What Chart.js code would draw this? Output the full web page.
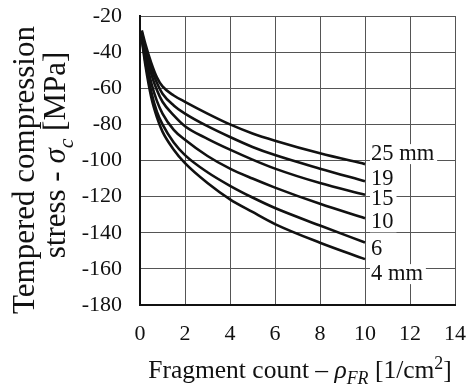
<!DOCTYPE html>
<html>
<head>
<meta charset="utf-8">
<script src="https://cdn.jsdelivr.net/npm/chart.js@4"></script>
<style>
  body { margin: 0; background: #fff; }
</style>
</head>
<body>
<canvas id="stressChart" width="473" height="388"></canvas>
<script>
// fragment count values [1/cm2]
const fragmentCount = [0.08, 0.25, 0.5, 0.75, 1, 1.5, 2, 3, 4, 5, 6, 8, 10];

// stress per glass thickness [MPa]
const stress25 = [-28, -36, -46, -54, -59, -64, -67.5, -74, -80, -85, -89, -96, -102];
const stress19 = [-29, -38, -49, -57, -63, -69.5, -74, -81, -87, -92.5, -97, -104.5, -111.5];
const stress15 = [-30, -40, -52, -61, -67.5, -75, -81, -88, -94, -99.5, -104.5, -112.5, -119];
const stress10 = [-31, -43, -57, -67, -74, -83, -88.5, -97.5, -104.5, -110, -115, -124, -132];
const stress6 = [-32, -46, -62, -73, -80, -90, -97, -106.5, -114, -120.5, -126.3, -136, -145.4];
const stress4 = [-33, -48, -65, -76, -84, -94, -101.5, -112.5, -121.5, -128.5, -135.2, -145.5, -154.6];

const curveLabels = ["25 mm", "19", "15", "10", "6", "4 mm"];
const allSeries = [stress25, stress19, stress15, stress10, stress6, stress4];

const serif = "'Liberation Serif', 'DejaVu Serif', serif";

// label offsets from the curve end point (px)
const labelShift = [-10, -2, 4, 4, 7, 15];

const curveLabelPlugin = {
   id: "curveLabels",
   afterDatasetsDraw(chart) {
      const ctx = chart.ctx;
      ctx.save();
      ctx.font = "22.5px " + serif;
      ctx.textBaseline = "middle";
      ctx.textAlign = "left";
      chart.data.datasets.forEach((ds, i) => {
         const pts = chart.getDatasetMeta(i).data;
         const last = pts[pts.length - 1];
         const x = last.x + 6;
         const y = last.y + labelShift[i];
         const w = ctx.measureText(curveLabels[i]).width;
         ctx.fillStyle = "#fff";
         ctx.fillRect(x - 1, y - 10, w + 4, 20);
         ctx.fillStyle = "#111";
         ctx.fillText(curveLabels[i], x, y);
      });
      ctx.restore();
   }
};

// draws a run of text pieces (normal / italic / sub / sup) centred on 0
function drawPieces(ctx, pieces, size) {
   const fontOf = p => {
      const s = p.sub || p.sup ? size * 0.7 : size;
      return (p.italic ? "italic " : "") + s + "px " + serif;
   };
   let total = 0;
   pieces.forEach(p => {
      ctx.font = fontOf(p);
      total += ctx.measureText(p.t).width;
   });
   let x = -total / 2;
   pieces.forEach(p => {
      ctx.font = fontOf(p);
      let dy = 0;
      if (p.sub) dy = size * 0.25;
      if (p.sup) dy = -size * 0.35;
      ctx.fillText(p.t, x, dy);
      x += ctx.measureText(p.t).width;
   });
}

const axisTitlePlugin = {
   id: "axisTitles",
   afterDraw(chart) {
      const ctx = chart.ctx;
      ctx.save();
      ctx.fillStyle = "#111";
      ctx.textBaseline = "alphabetic";
      ctx.textAlign = "left";

      // x title
      ctx.save();
      ctx.translate(300, 378);
      drawPieces(ctx, [
         { t: "Fragment count \u2013 " },
         { t: "\u03c1", italic: true },
         { t: "FR", italic: true, sub: true },
         { t: " [1/cm" },
         { t: "2", sup: true },
         { t: "]" }
      ], 25.5);
      ctx.restore();

      // y title, two lines
      ctx.save();
      ctx.translate(34, 170);
      ctx.rotate(-Math.PI / 2);
      drawPieces(ctx, [{ t: "Tempered compression" }], 31);
      ctx.restore();

      ctx.save();
      ctx.translate(65, 155);
      ctx.rotate(-Math.PI / 2);
      drawPieces(ctx, [
         { t: "stress - " },
         { t: "\u03c3", italic: true },
         { t: "c", italic: true, sub: true },
         { t: " [MPa]" }
      ], 31);
      ctx.restore();

      ctx.restore();
   }
};

// no extra room for overflowing tick labels, the padding below sets the area
function noLabelPadding(scale) {
   scale.paddingTop = 0;
   scale.paddingBottom = 0;
   scale.paddingLeft = 0;
   scale.paddingRight = 0;
}

const ctx = document.getElementById("stressChart").getContext("2d");
const stressChart = new Chart(ctx, {
   type: "line",
   data: {
      datasets: allSeries.map((vals, i) => ({
         label: curveLabels[i],
         data: vals.map((v, j) => ({ x: fragmentCount[j], y: v })),
         borderColor: "#111",
         borderWidth: 2.6,
         pointRadius: 0,
         fill: false,
         cubicInterpolationMode: "monotone"
      }))
   },
   options: {
      responsive: false,
      animation: false,
      layout: {
         padding: { top: 16, right: 18, left: 0, bottom: 0 }
      },
      plugins: {
         legend: { display: false },
         tooltip: { enabled: false }
      },
      scales: {
         x: {
            type: "linear",
            min: 0,
            max: 14,
            ticks: {
               stepSize: 2,
               autoSkip: false,
               maxRotation: 0,
               padding: 16,
               color: "#111",
               font: { family: serif, size: 22 }
            },
            grid: { color: "#555", lineWidth: 1, drawTicks: false },
            border: { color: "#111", width: 2 },
            afterFit(scale) { scale.height = 83; noLabelPadding(scale); }
         },
         y: {
            min: -180,
            max: -20,
            ticks: {
               stepSize: 20,
               autoSkip: false,
               padding: 18,
               color: "#111",
               font: { family: serif, size: 22 }
            },
            grid: { color: "#555", lineWidth: 1, drawTicks: false },
            border: { color: "#111", width: 2 },
            afterFit(scale) { scale.width = 140; noLabelPadding(scale); }
         }
      }
   },
   plugins: [curveLabelPlugin, axisTitlePlugin]
});
</script>
</body>
</html>
